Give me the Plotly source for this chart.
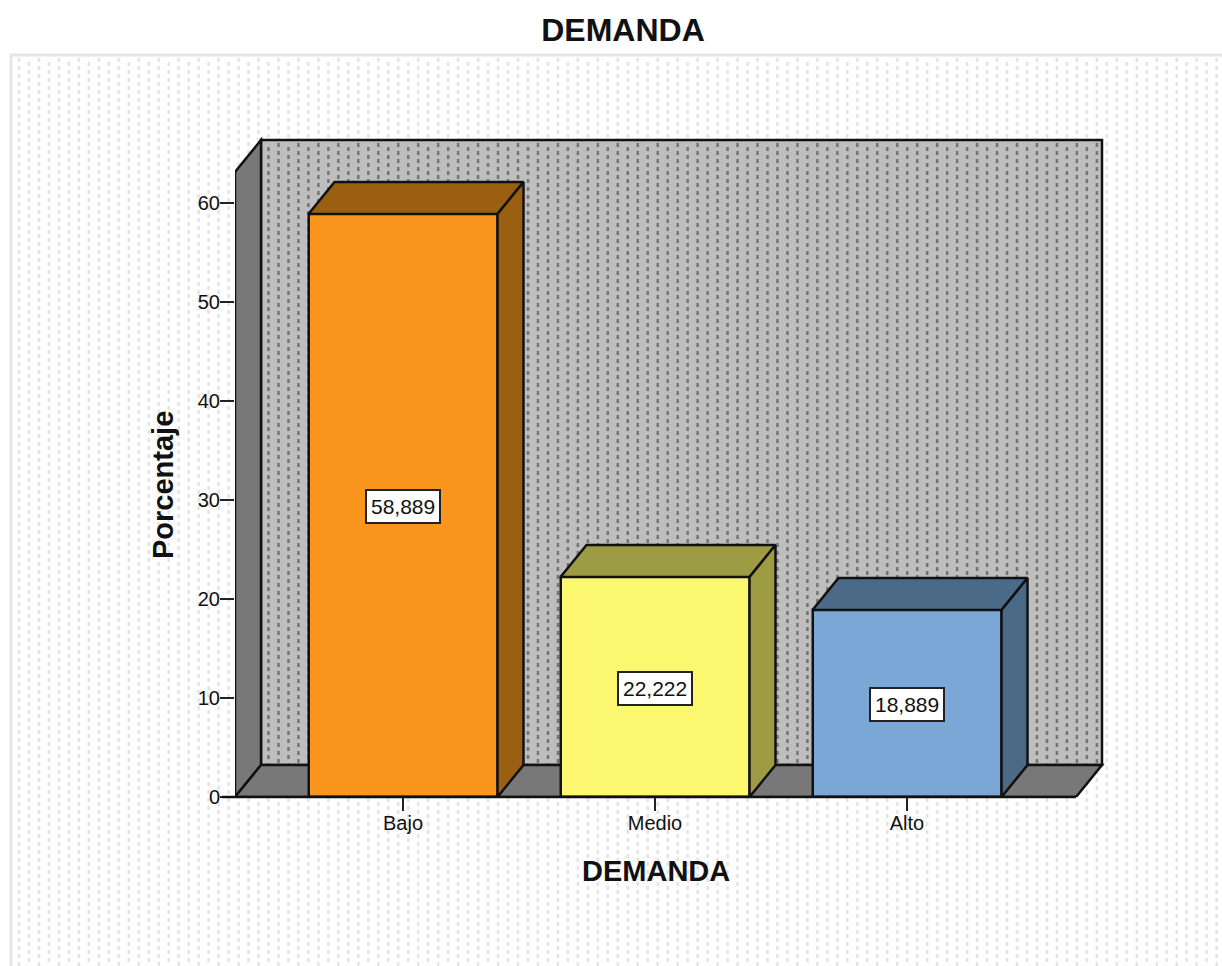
# Frequency chart for DEMANDA drawn as a bar chart with an extruded 3D look
import plotly.graph_objects as go

categories = ["Bajo", "Medio", "Alto"]
percentages = [58.889, 22.222, 18.889]
front_colors = ["#FA961E", "#FBF76E", "#7BA7D6"]
depth_colors = ["#9A5F11", "#9E9B45", "#4A6A87"]
y_ticks = [0, 10, 20, 30, 40, 50, 60]

WIDTH, HEIGHT = 1222, 966
LEFT, RIGHT, TOP, BOTTOM = 235, 1105, 137, 797
PX_PER_CATEGORY, PX_PER_PERCENT = 252, 9.9
CENTER_0 = 403

X_RANGE = [(LEFT - CENTER_0) / PX_PER_CATEGORY, (RIGHT - CENTER_0) / PX_PER_CATEGORY]
Y_RANGE = [0, (BOTTOM - TOP) / PX_PER_PERCENT]
DX = 26 / PX_PER_CATEGORY   # extrusion depth along x
DY = 32 / PX_PER_PERCENT    # extrusion depth along y
BAR_WIDTH = 0.75
OUTLINE = dict(color="#111111", width=2.5)
STIPPLE_DASH = "4px,4px"


def data_x(px):
    return (px - CENTER_0) / PX_PER_CATEGORY


def data_y(px):
    return (BOTTOM - px) / PX_PER_PERCENT


def paper_x(px):
    return (px - LEFT) / (RIGHT - LEFT)


def paper_y(px):
    return (BOTTOM - px) / (BOTTOM - TOP)


def closed_path(points):
    return "M" + " L".join(f"{x},{y}" for x, y in points) + " Z"


# Corners of the chart box
BOX_X0, BOX_X1 = data_x(235), data_x(1102)
BOX_Y1 = data_y(140)
FRONT_X1 = BOX_X1 - DX
FRONT_Y1 = BOX_Y1 - DY

shapes = []

# Outer panel with its stippled texture; neighbouring columns are staggered
shapes.append(dict(type="rect", xref="paper", yref="paper", layer="below",
                   x0=paper_x(11), x1=paper_x(WIDTH + 10),
                   y0=paper_y(55), y1=paper_y(HEIGHT + 10),
                   fillcolor="white", line=dict(color="#E6E6E6", width=3)))
for k in range(121):
    px = 19 + 9.98 * k
    start = 58 + (k % 2) * 4
    shapes.append(dict(type="line", xref="paper", yref="paper", layer="below",
                       x0=paper_x(px), x1=paper_x(px),
                       y0=paper_y(start), y1=paper_y(HEIGHT),
                       line=dict(color="#E4E4E4", width=2.5, dash=STIPPLE_DASH)))

# Back wall with its darker stipple, then side wall and floor
shapes.append(dict(type="path", xref="x", yref="y", layer="below",
                   path=closed_path([(BOX_X0 + DX, DY), (BOX_X1, DY), (BOX_X1, BOX_Y1), (BOX_X0 + DX, BOX_Y1)]),
                   fillcolor="#BEBEBE", line=OUTLINE))
for k in range(121):
    px = 19 + 9.98 * k
    if 263 < px < 1101:
        start = 143 + (k % 2) * 4
        shapes.append(dict(type="line", xref="x", yref="y", layer="below",
                           x0=data_x(px), x1=data_x(px),
                           y0=data_y(start), y1=data_y(764),
                           line=dict(color="#747474", width=2.5, dash=STIPPLE_DASH)))
shapes.append(dict(type="path", xref="x", yref="y", layer="below",
                   path=closed_path([(BOX_X0, 0), (BOX_X0, FRONT_Y1), (BOX_X0 + DX, BOX_Y1), (BOX_X0 + DX, DY)]),
                   fillcolor="#787878", line=OUTLINE))
shapes.append(dict(type="path", xref="x", yref="y", layer="below",
                   path=closed_path([(BOX_X0, 0), (FRONT_X1, 0), (BOX_X1, DY), (BOX_X0 + DX, DY)]),
                   fillcolor="#787878", line=OUTLINE))

# Baseline along the front of the floor
shapes.append(dict(type="line", xref="paper", yref="paper", layer="above",
                   x0=paper_x(222), x1=paper_x(1076), y0=paper_y(797), y1=paper_y(797),
                   line=OUTLINE))

fig = go.Figure()

positions = list(range(len(categories)))
fig.add_trace(go.Bar(x=positions, y=percentages, width=BAR_WIDTH,
                     marker=dict(color=front_colors, line=OUTLINE),
                     showlegend=False, hoverinfo="skip"))

# Top and right faces of each bar
for pos, value, color in zip(positions, percentages, depth_colors):
    xl, xr = pos - BAR_WIDTH / 2, pos + BAR_WIDTH / 2
    top_x = [xl, xr, xr + DX, xl + DX, xl]
    top_y = [value, value, value + DY, value + DY, value]
    side_x = [xr, xr + DX, xr + DX, xr, xr]
    side_y = [0, DY, value + DY, value, 0]
    for xs, ys in ((top_x, top_y), (side_x, side_y)):
        fig.add_trace(go.Scatter(x=xs, y=ys, mode="lines", fill="toself",
                                 fillcolor=color, line=OUTLINE,
                                 showlegend=False, hoverinfo="skip"))

# Value labels in white boxes at mid height
annotations = [
    dict(x=pos, y=value / 2, yshift=-1, text=f"{value:.3f}".replace(".", ","), showarrow=False,
         font=dict(size=21, color="#111111"),
         bgcolor="white", bordercolor="#222222", borderwidth=2, borderpad=4)
    for pos, value in zip(positions, percentages)
]

# Axis titles, placed independently of the plot area's centre
annotations.append(dict(xref="paper", yref="paper", x=paper_x(655.5), y=paper_y(871),
                        xanchor="center", yanchor="middle",
                        text="<b>DEMANDA</b>", showarrow=False,
                        font=dict(size=29, color="#111111")))
annotations.append(dict(xref="paper", yref="paper", x=paper_x(163), y=paper_y(485),
                        xanchor="center", yanchor="middle",
                        text="<b>Porcentaje</b>", showarrow=False, textangle=-90,
                        font=dict(size=29, color="#111111")))

fig.update_layout(
    width=WIDTH, height=HEIGHT,
    margin=dict(l=LEFT, r=WIDTH - RIGHT, t=TOP, b=HEIGHT - BOTTOM),
    paper_bgcolor="white", plot_bgcolor="rgba(0,0,0,0)",
    font=dict(family="Liberation Sans", color="#111111"),
    title=dict(text="<b>DEMANDA</b>", x=623 / WIDTH, xanchor="center",
               y=1 - 30 / HEIGHT, yanchor="middle",
               font=dict(size=32, color="#111111")),
    shapes=shapes, annotations=annotations, bargap=0,
    xaxis=dict(range=X_RANGE, tickvals=positions, ticktext=categories,
               showgrid=False, zeroline=False, showline=False,
               ticks="outside", ticklen=13, tickwidth=2, tickcolor="#222222",
               tickfont=dict(size=20), ticklabelstandoff=-5),
    yaxis=dict(range=Y_RANGE, tickvals=y_ticks,
               showgrid=False, zeroline=False, showline=False,
               ticks="outside", ticklen=14, tickwidth=2, tickcolor="#222222",
               tickfont=dict(size=20), ticklabelstandoff=-4),
)

fig.write_html("out.html", config=dict(displayModeBar=False))
